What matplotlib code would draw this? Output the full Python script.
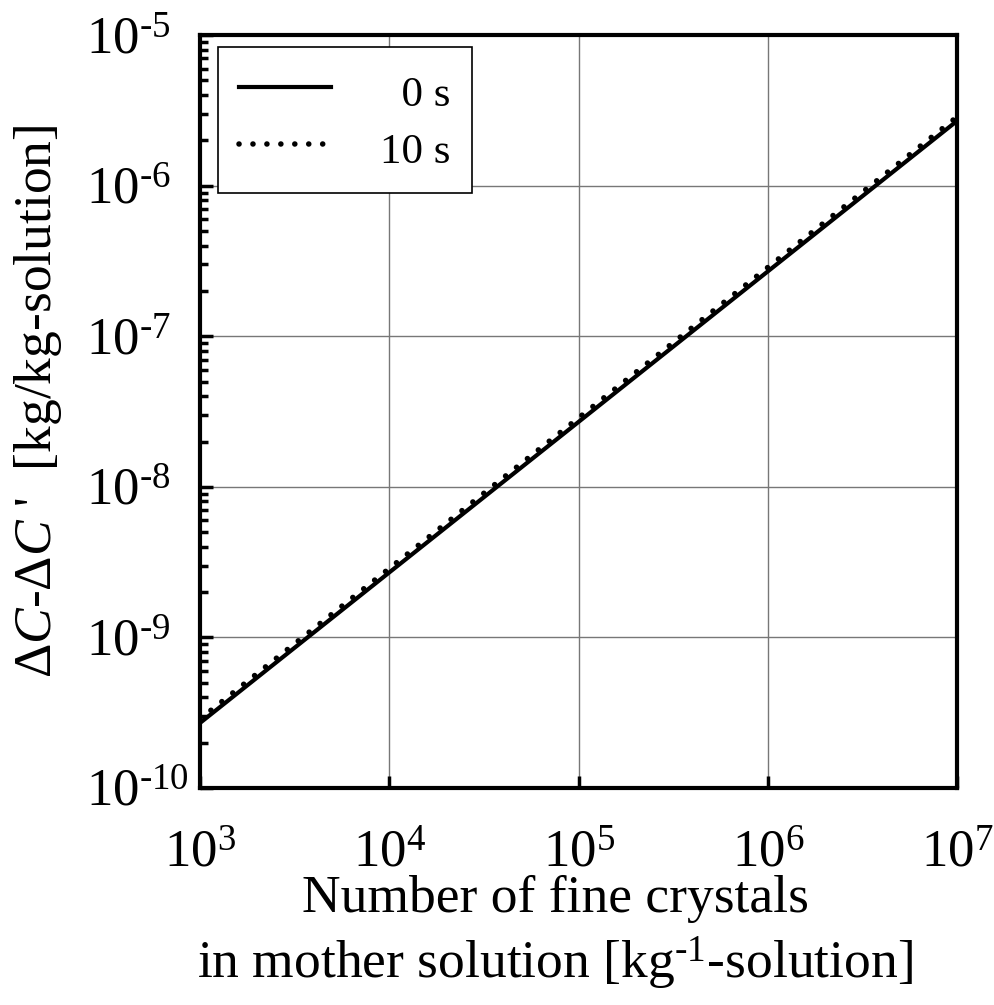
import numpy as np
import matplotlib
matplotlib.use("Agg")
import matplotlib.pyplot as plt
from matplotlib.ticker import LogLocator, FixedLocator, NullFormatter

plt.rcParams['font.family'] = ['Liberation Serif', 'DejaVu Serif']
plt.rcParams['mathtext.fontset'] = 'custom'
plt.rcParams['mathtext.rm'] = 'Liberation Serif'
plt.rcParams['mathtext.it'] = 'Liberation Serif:italic'

# number of fine crystals [1/kg-solution]
n_crystals = [1e3, 1e4, 1e5, 1e6, 1e7]
# dC - dC' [kg/kg-solution]
dc_0s = [2.7e-10, 2.7e-9, 2.7e-8, 2.7e-7, 2.7e-6]
dc_10s = [2.87e-10, 2.87e-9, 2.87e-8, 2.87e-7, 2.87e-6]

xticks = [1e3, 1e4, 1e5, 1e6, 1e7]
xticklabels = ['10$^{3}$', '10$^{4}$', '10$^{5}$', '10$^{6}$', '10$^{7}$']
yticks = [1e-10, 1e-9, 1e-8, 1e-7, 1e-6, 1e-5]
yticklabels = ['10$^{\u2010 10}$', '10$^{\u2010 9}$', '10$^{\u2010 8}$',
               '10$^{\u2010 7}$', '10$^{\u2010 6}$', '10$^{\u2010 5}$']

fig = plt.figure(figsize=(9.95, 10.05), dpi=100)
ax = fig.add_axes([0.201, 0.216, 0.761, 0.749])

ax.plot(n_crystals, dc_0s, color='k', lw=3.0, label='  0 s', zorder=3)
ax.plot(n_crystals, dc_10s, color='k', lw=4.0, linestyle=(0, (0.01, 2.5)),
        dash_capstyle='round', label='10 s', zorder=3)

ax.set_xscale('log')
ax.set_yscale('log')
ax.set_xlim(1e3, 1e7)
ax.set_ylim(1e-10, 1e-5)

ax.xaxis.set_major_locator(FixedLocator(xticks))
ax.set_xticklabels(xticklabels)
ax.yaxis.set_major_locator(FixedLocator(yticks))
ax.set_yticklabels(yticklabels, ha='left')
ax.xaxis.set_minor_locator(LogLocator(base=10, subs=np.arange(2, 10)))
ax.yaxis.set_minor_locator(LogLocator(base=10, subs=np.arange(2, 10)))
ax.xaxis.set_minor_formatter(NullFormatter())
ax.yaxis.set_minor_formatter(NullFormatter())

ax.tick_params(which='major', direction='in', length=9, width=2.5, labelsize=38)
ax.tick_params(axis='x', which='major', pad=30)
ax.tick_params(axis='y', which='major', pad=82)
ax.tick_params(which='minor', direction='in', length=6, width=2.5)

ax.grid(True, which='major', color='#777777', lw=1.0, zorder=0)
for sp in ax.spines.values():
    sp.set_linewidth(3.0)

ax.set_xlabel('Number of fine crystals\nin mother solution [kg$^{\u2010 1}$-solution]',
              fontsize=38.5, linespacing=1.25)
ax.xaxis.set_label_coords(0.469, -0.116)
ax.set_ylabel("\u0394$\\mathit{C}$-\u0394$\\mathit{C}$ '  [kg/kg-solution]",
              fontsize=38.5)
ax.yaxis.set_label_coords(-0.18, 0.514)

leg = ax.legend(loc='upper left', bbox_to_anchor=(0.024, 0.984), fontsize=31,
                handlelength=2.14, handletextpad=1.14, labelspacing=0.25,
                handleheight=1.25, borderpad=0.49, borderaxespad=0,
                fancybox=False, framealpha=1, edgecolor='k')
leg.get_frame().set_linewidth(1.2)

fig.savefig('out.png', dpi=100)
